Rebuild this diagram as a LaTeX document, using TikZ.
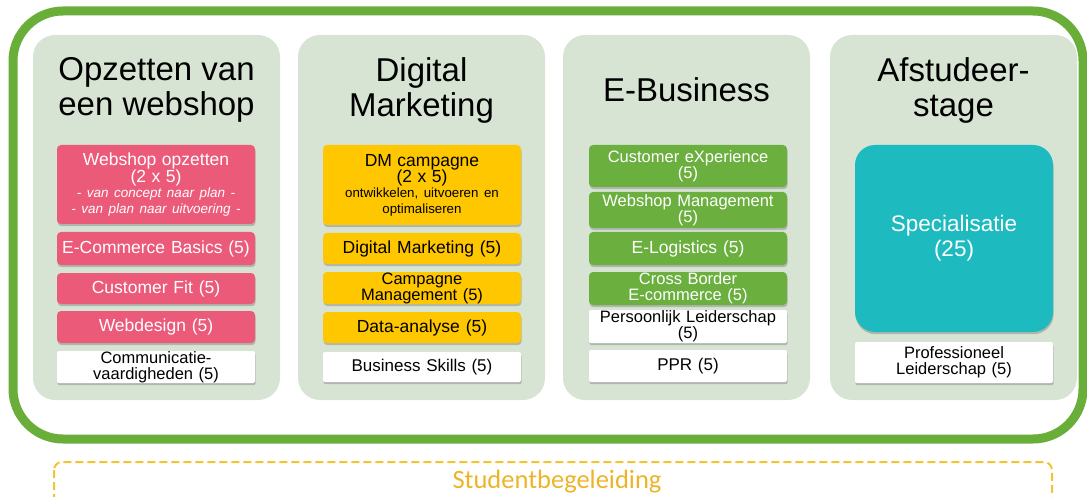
\documentclass[tikz,border=0pt]{standalone}
\usepackage{fontspec}
\setmainfont{Liberation Sans}
\newfontfamily\calibri{Carlito}
\usetikzlibrary{shadows}
\definecolor{framegreen}{RGB}{106,174,58}
\definecolor{colbg}{RGB}{215,228,211}
\definecolor{modpink}{RGB}{236,90,122}
\definecolor{modyellow}{RGB}{255,199,0}
\definecolor{modgreen}{RGB}{107,175,63}
\definecolor{modteal}{RGB}{29,187,191}
\definecolor{guideyellow}{RGB}{243,196,48}
\definecolor{guidetext}{RGB}{238,180,40}
\tikzset{
  colbox/.style={fill=colbg, draw=none, rounded corners=22pt},
  coltitle/.style={align=center, font=\fontsize{33}{35}\selectfont, inner sep=0pt},
  modbox/.style={rounded corners=4pt, inner sep=0pt, text width=194pt, align=center,
     minimum width=198pt, font=\fontsize{16.5}{16}\selectfont,
     drop shadow={shadow xshift=0.6pt, shadow yshift=-2.2pt, opacity=0.45}},
  pinkmod/.style={modbox, fill=modpink, text=white},
  yellowmod/.style={modbox, fill=modyellow, text=black},
  greenmod/.style={modbox, fill=modgreen, text=white},
  whitemod/.style={modbox, fill=white, text=black, rounded corners=2pt},
}
\begin{document}
\begin{tikzpicture}[x=1pt,y=-1pt]
\useasboundingbox (0,0) rectangle (1087,497);
\clip (0,0) rectangle (1087,497);
% outer green frame
\draw[framegreen, line width=9pt, rounded corners=50pt] (13,11) rectangle (1083,439);
% column backgrounds
\path[colbox] (33,35) rectangle (280,400);
\path[colbox] (298,35) rectangle (545,400);
\path[colbox] (563,35) rectangle (810,400);
\path[colbox] (830,35) rectangle (1077,400);
% titles
\node[coltitle] (t1) at (156.5,90) {Opzetten van\\een webshop};
\node[coltitle] (t2) at (421.5,90) {Digital\\Marketing};
\node[coltitle] (t3) at (686.5,90) {E-Business};
\node[coltitle] (t4) at (953.5,90) {Afstudeer-\\stage};
% column 1
\node[pinkmod, minimum height=79pt] (wo) at (156,184.5) {\fontsize{17.5}{17}\selectfont Webshop opzetten\\(2 x 5)\par\fontsize{13.5}{13}\selectfont\itshape - van concept naar plan -\\- van plan naar uitvoering -};
\node[pinkmod, minimum height=33pt, font=\fontsize{17.5}{17}\selectfont] (ecb) at (156,248.5) {E-Commerce Basics (5)};
\node[pinkmod, minimum height=31pt, font=\fontsize{17.5}{17}\selectfont] (cf) at (156,288.5) {Customer Fit (5)};
\node[pinkmod, minimum height=32pt, font=\fontsize{17.5}{17}\selectfont] (wd) at (156,327) {Webdesign (5)};
\node[whitemod, minimum height=32pt] (comm) at (156,367) {Communicatie-\\vaardigheden (5)};
% column 2
\node[yellowmod, minimum height=80pt] (dm) at (422,185) {\fontsize{17.5}{16.5}\selectfont DM campagne\\(2 x 5)\par\fontsize{13.3}{14.5}\selectfont ontwikkelen, uitvoeren en\\optimaliseren};
\node[yellowmod, minimum height=31pt, font=\fontsize{17.5}{17}\selectfont] (dmk) at (422,248.5) {Digital Marketing (5)};
\node[yellowmod, minimum height=32pt] (cm) at (422,288) {Campagne\\Management (5)};
\node[yellowmod, minimum height=31pt, font=\fontsize{17.5}{17}\selectfont] (da) at (422,327.5) {Data-analyse (5)};
\node[whitemod, minimum height=30pt, font=\fontsize{17}{17}\selectfont] (bs) at (422,367) {Business Skills (5)};
% column 3
\node[greenmod, minimum height=42pt] (cx) at (688,166) {Customer eXperience\\(5)};
\node[greenmod, minimum height=36pt] (wm) at (688,210) {Webshop Management\\(5)};
\node[greenmod, minimum height=33pt, font=\fontsize{17.5}{17}\selectfont] (el) at (688,248.5) {E-Logistics (5)};
\node[greenmod, minimum height=33pt] (cb) at (688,288.5) {Cross Border\\E-commerce (5)};
\node[whitemod, minimum height=33pt] (pl) at (688,326.5) {Persoonlijk Leiderschap\\(5)};
\node[whitemod, minimum height=32pt, font=\fontsize{17}{17}\selectfont] (ppr) at (688,366) {PPR (5)};
% column 4
\node[modbox, fill=modteal, text=white, rounded corners=20pt, minimum height=187pt, font=\fontsize{22.5}{25}\selectfont] (spec) at (954,238.5) {Specialisatie\\(25)};
\node[whitemod, minimum height=41pt] (prof) at (954,362.5) {Professioneel\\Leiderschap (5)};
% student guidance
\draw[guideyellow, line width=2pt, dash pattern=on 8pt off 4pt, rounded corners=8pt] (54,462) rectangle (1052,520);
\node[text=guidetext, font=\calibri\fontsize{26.5}{28}\selectfont, inner sep=0pt] (sb) at (557,482) {Studentbegeleiding};
\end{tikzpicture}
\end{document}
